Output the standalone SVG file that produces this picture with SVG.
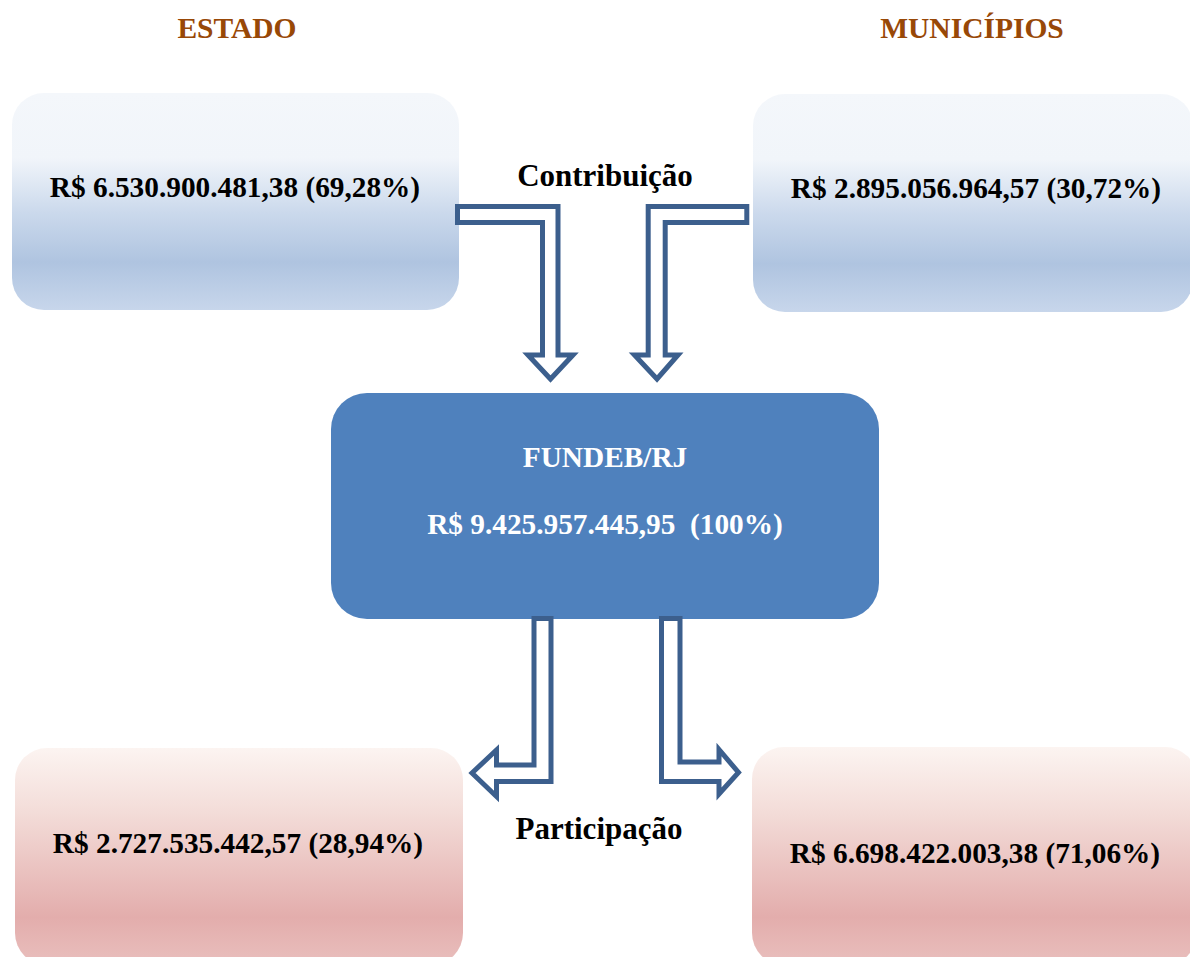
<svg xmlns="http://www.w3.org/2000/svg" width="1190" height="957" viewBox="0 0 1190 957">
  <defs>
    <linearGradient id="gBlue" x1="0" y1="0" x2="0" y2="1">
      <stop offset="0" stop-color="#f4f7fb"/>
      <stop offset="0.3" stop-color="#f1f5fa"/>
      <stop offset="0.55" stop-color="#cbd9ec"/>
      <stop offset="0.78" stop-color="#afc4e0"/>
      <stop offset="1" stop-color="#c7d6eb"/>
    </linearGradient>
    <linearGradient id="gPink" x1="0" y1="0" x2="0" y2="1">
      <stop offset="0" stop-color="#fcf4f1"/>
      <stop offset="0.3" stop-color="#f3dcd8"/>
      <stop offset="0.78" stop-color="#e3adac"/>
      <stop offset="1" stop-color="#e9bfbd"/>
    </linearGradient>
    <style>
      .t { font-family: "Liberation Serif", "Times New Roman", serif; font-weight: bold; text-anchor: middle; }
      .title { font-size: 29.5px; fill: #984807; }
      .val { font-size: 29.3px; fill: #000000; }
      .lbl { font-size: 31px; fill: #000000; }
      .white { font-size: 29.3px; fill: #ffffff; }
      .arrow { fill: #ffffff; stroke: #3c5f8d; stroke-width: 5; stroke-linejoin: miter; }
    </style>
  </defs>
  <rect width="1190" height="957" fill="#ffffff"/>

  <g id="titles">
    <text class="t title" x="237" y="38">ESTADO</text>
    <text class="t title" x="972" y="38">MUNICÍPIOS</text>
  </g>

  <g id="estado-contribuicao">
    <rect x="12" y="93" width="447" height="217" rx="32" ry="32" fill="url(#gBlue)"/>
    <text class="t val" x="235" y="197">R$ 6.530.900.481,38 (69,28%)</text>
  </g>

  <g id="municipios-contribuicao">
    <rect x="753" y="94" width="440" height="218" rx="32" ry="32" fill="url(#gBlue)"/>
    <text class="t val" x="976" y="198">R$ 2.895.056.964,57 (30,72%)</text>
  </g>

  <g id="fundeb">
    <rect x="331" y="393" width="548" height="226" rx="36" ry="36" fill="#4f81bd"/>
    <text class="t white" x="605" y="467">FUNDEB/RJ</text>
    <text class="t white" x="605" y="534">R$ 9.425.957.445,95&#160; (100%)</text>
  </g>

  <g id="estado-participacao">
    <rect x="15" y="748" width="448" height="217" rx="32" ry="32" fill="url(#gPink)"/>
    <text class="t val" x="238" y="853">R$ 2.727.535.442,57 (28,94%)</text>
  </g>

  <g id="municipios-participacao">
    <rect x="752" y="747" width="445" height="218" rx="32" ry="32" fill="url(#gPink)"/>
    <text class="t val" x="975" y="863">R$ 6.698.422.003,38 (71,06%)</text>
  </g>

  <g id="connectors">
    <polygon class="arrow" points="457.5,206.5 558,206.5 558,355 573,355 550.5,379 528,355 542.5,355 542.5,222.5 457.5,222.5"/>
    <polygon class="arrow" points="746.8,206.5 648.2,206.5 648.2,355 634.5,355 657,379 678,355 665.2,355 665.2,222.5 746.8,222.5"/>
    <polygon class="arrow" points="534,618.5 551,618.5 551,781.5 496.5,781.5 496.5,796.5 472,773 496.5,750 496.5,765 534,765"/>
    <polygon class="arrow" points="661.5,618.5 680,618.5 680,762 719,762 719,749.5 738.5,772.5 719,794 719,781.5 661.5,781.5"/>
    <text class="t lbl" x="605" y="186">Contribuição</text>
    <text class="t lbl" x="599" y="839">Participação</text>
  </g>
</svg>
